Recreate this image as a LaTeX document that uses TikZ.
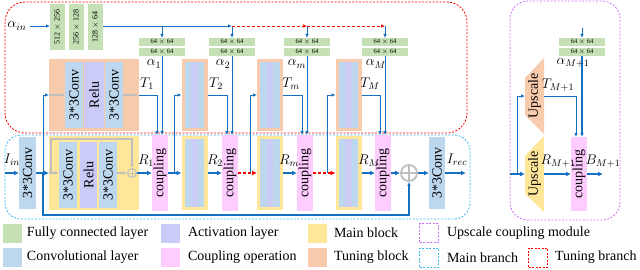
\RequirePackage{fix-cm}
\documentclass[tikz,border=0pt]{standalone}
\usepackage{fontspec}
\setmainfont{Liberation Serif}
\usepackage{graphicx}
\usetikzlibrary{arrows.meta}
\definecolor{fcgreen}{HTML}{C5E0B4}
\definecolor{convblue}{HTML}{BDD7EE}
\definecolor{actpurple}{HTML}{CBCBF7}
\definecolor{mainyellow}{HTML}{FFE699}
\definecolor{cplpink}{HTML}{FFCCFF}
\definecolor{tuneorange}{HTML}{F8CBAD}
\definecolor{linkblue}{HTML}{1670C2}
\definecolor{skipgray}{HTML}{BFBFBF}
\definecolor{cyanline}{HTML}{3DB8EE}
\definecolor{purpleline}{HTML}{CC70F5}
\newcommand{\vtext}[1]{\rotatebox{90}{#1}}
\newcommand{\strips}[3]{%
  \fill[convblue] (#1-9.75,#2-#3/2) rectangle ++(6.5,#3);
  \fill[actpurple] (#1-3.25,#2-#3/2) rectangle ++(6.5,#3);
  \fill[convblue] (#1+3.25,#2-#3/2) rectangle ++(6.5,#3);}

\begin{document}
\begin{tikzpicture}[x=1pt,y=-1pt,>={Latex[length=4pt,width=3.6pt]},
  font=\fontsize{14}{16}\selectfont,
  box/.style={inner sep=0,outer sep=0},
  fc/.style={box,fill=fcgreen,minimum width=15,minimum height=46,font=\fontsize{8}{9}\selectfont},
  pair/.style={box,fill=fcgreen,minimum width=46,minimum height=8,font=\fontsize{6.5}{7}\selectfont},
  conv/.style={box,fill=convblue},
  act/.style={box,fill=actpurple},
  mainblk/.style={box,fill=mainyellow,minimum height=74},
  tuneblk/.style={box,fill=tuneorange,minimum height=72},
  cpl/.style={box,fill=cplpink,minimum width=16,minimum height=76},
  arr/.style={->,draw=linkblue,line width=0.9pt},
  thk/.style={-{Latex[length=5pt,width=5pt]},draw=linkblue,line width=1.8pt},
  reddash/.style={->,draw=red,line width=0.8pt,dash pattern=on 3pt off 2pt},
  redthk/.style={-{Latex[length=5pt,width=5pt]},draw=red,line width=1.8pt,dash pattern=on 3pt off 2pt},
  gry/.style={->,draw=skipgray,line width=1.2pt},
  key/.style={box,minimum size=19},
  keytxt/.style={box,anchor=west}]
  \useasboundingbox (0,0) rectangle (640,270);
  \draw[red,line width=0.8pt,dash pattern=on 2pt off 1.5pt,rounded corners=20] (5,2) rectangle (467,133);
  \draw[cyanline,line width=0.8pt,dash pattern=on 2pt off 1.5pt,rounded corners=16] (5,135) rectangle (470,219);
  \draw[purpleline,line width=0.8pt,dash pattern=on 2pt off 1.5pt,rounded corners=18] (510,1) rectangle (620,220);

  \node (ain) at (17,26) {$\alpha_{in}$};
  \node[fc] (fcA) at (57.5,27) {\vtext{512 $\times$ 256}};
  \node[fc] (fcB) at (76.5,27) {\vtext{256 $\times$ 128}};
  \node[fc] (fcC) at (95.5,27) {\vtext{128 $\times$ 64}};
  \draw[arr] (ain.east) -- (ain.east -| fcA.west);
  \node[pair] (p1t) at (162,42) {64 $\times$ 64};
  \node[pair] (p1b) at (162,52) {64 $\times$ 64};
  \node[pair] (p2t) at (232,42) {64 $\times$ 64};
  \node[pair] (p2b) at (232,52) {64 $\times$ 64};
  \node[pair] (pmt) at (307,42) {64 $\times$ 64};
  \node[pair] (pmb) at (307,52) {64 $\times$ 64};
  \node[pair] (pMt) at (385,42) {64 $\times$ 64};
  \node[pair] (pMb) at (385,52) {64 $\times$ 64};
  \draw[arr] (fcC.east |- ain.east) -- (p2t.north |- ain.east);
  \draw[arr] (p1t.north |- ain.east) -- (p1t.north);
  \draw[arr] (p2t.north |- ain.east) -- (p2t.north);
  \draw[reddash] (p2t.north |- ain.east) -- (pmt.north |- ain.east);
  \draw[arr] (pmt.north |- ain.east) -- (pmt.north);
  \draw[reddash] (pmt.north |- ain.east) -- (pMt.north |- ain.east);
  \draw[arr] (pMt.north |- ain.east) -- (pMt.north);
  \node (a1) at (154,64) {$\alpha_1$};
  \node (a2) at (223,64) {$\alpha_2$};
  \node (am) at (297,64) {$\alpha_m$};
  \node (aM) at (376,64) {$\alpha_M$};

  \node[tuneblk,minimum width=90] (tb1) at (94,95) {};
  \node[conv,minimum width=18,minimum height=66] (tc1) at (74,95) {\vtext{3*3Conv}};
  \node[act,minimum width=20,minimum height=66] (tr1) at (94,95) {\vtext{Relu}};
  \node[conv,minimum width=18,minimum height=66] (tc2) at (114,95) {\vtext{3*3Conv}};
  \draw[gry] (tb1.west) -- (tc1.west);
  \draw[gry] (tc2.east) -- (tb1.east);
  \node[tuneblk,minimum width=26] (tb2) at (194.5,95) {};
  \strips{194.5}{95}{66}
  \node[tuneblk,minimum width=26] (tbm) at (270,95) {};
  \strips{270}{95}{66}
  \node[tuneblk,minimum width=26] (tbM) at (348.5,95) {};
  \strips{348.5}{95}{66}
  \node (t1) at (147,84) {$T_1$};
  \node (t2) at (216,84) {$T_2$};
  \node (tm) at (291,84) {$T_m$};
  \node (tM) at (370,84) {$T_M$};

  \node (iin) at (12,160) {$I_{in}$};
  \coordinate (inL) at (5,173);
  \node[conv,minimum width=17,minimum height=72] (c0) at (27.5,173) {\vtext{3*3Conv}};
  \draw[thk] (inL) -- (c0.west);
  \node[mainblk,minimum width=90] (mb1) at (94,173) {};
  \node[conv,minimum width=18,minimum height=66] (mc1) at (68,175) {\vtext{3*3Conv}};
  \node[act,minimum width=17,minimum height=66] (mr1) at (88.5,175) {\vtext{Relu}};
  \node[conv,minimum width=18,minimum height=66] (mc2) at (108,175) {\vtext{3*3Conv}};
  \node[circle,draw=skipgray,line width=1pt,minimum size=9,inner sep=0] (ps1) at (132,173) {};
  \draw[skipgray,line width=1pt] (ps1.north) -- (ps1.south) (ps1.west) -- (ps1.east);
  \coordinate (sk) at (132,139);
  \draw[gry] (mb1.west) -- (mb1.west -| mc1.west);
  \draw[gry] ([xshift=2pt]mb1.west) |- (sk) -- (ps1.north);
  \draw[gry] (mc2.east |- ps1.west) -- (ps1.west);
  \node[cpl] (cpl1) at (160,173) {\vtext{coupling}};
  \draw[thk] (ps1.east) -- (cpl1.west);
  \coordinate (j1) at (43,173);
  \draw[thk] (c0.east) -- (mb1.west);
  \draw[arr] (j1) |- (tb1.west);

  \node[mainblk,minimum width=26] (mb2) at (194.5,173) {};
  \strips{194.5}{173}{68}
  \node[cpl] (cpl2) at (230,173) {\vtext{coupling}};
  \node[mainblk,minimum width=26] (mbm) at (270,173) {};
  \strips{270}{173}{68}
  \node[cpl] (cplm) at (305,173) {\vtext{coupling}};
  \node[mainblk,minimum width=26] (mbM) at (348.5,173) {};
  \strips{348.5}{173}{68}
  \node[cpl] (cplM) at (383,173) {\vtext{coupling}};
  \coordinate (j2) at (174,173);
  \coordinate (jm) at (250,173);
  \coordinate (jM) at (327,173);
  \draw[thk] (cpl1.east) -- (mb2.west);
  \draw[thk] (mb2.east) -- (cpl2.west);
  \draw[redthk] (cpl2.east) -- (mbm.west);
  \draw[thk] (mbm.east) -- (cplm.west);
  \draw[redthk] (cplm.east) -- (mbM.west);
  \draw[thk] (mbM.east) -- (cplM.west);
  \draw[arr] (j2) |- (tb2.west);
  \draw[arr] (jm) |- (tbm.west);
  \draw[arr] (jM) |- (tbM.west);
  \draw[arr] (tb1.east) -| ([xshift=-3pt]cpl1.north);
  \draw[arr] (p1b.south) -- (p1b.south |- cpl1.north);
  \draw[arr] (tb2.east) -| ([xshift=-3pt]cpl2.north);
  \draw[arr] (p2b.south) -- (p2b.south |- cpl2.north);
  \draw[arr] (tbm.east) -| ([xshift=-3pt]cplm.north);
  \draw[arr] (pmb.south) -- (pmb.south |- cplm.north);
  \draw[arr] (tbM.east) -| ([xshift=-3pt]cplM.north);
  \draw[arr] (pMb.south) -- (pMb.south |- cplM.north);
  \node (r1) at (146,161) {$R_1$};
  \node (r2) at (215,161) {$R_2$};
  \node (rm) at (289,161) {$R_m$};
  \node (rM) at (369,161) {$R_M$};

  \node[circle,draw=skipgray,line width=1.8pt,minimum size=16,inner sep=0] (sumF) at (409,173) {};
  \draw[skipgray,line width=1.8pt] (sumF.north) -- (sumF.south) (sumF.west) -- (sumF.east);
  \draw[thk] (cplM.east) -- (sumF.west);
  \coordinate (bk) at (43,215);
  \draw[arr,line width=1.3pt] (j1) -- (bk) -| (sumF.south);
  \node[conv,minimum width=16,minimum height=72] (cF) at (437,173) {\vtext{3*3Conv}};
  \draw[thk] (sumF.east) -- (cF.west);
  \node (irec) at (457,160) {$I_{rec}$};
  \coordinate (outR) at (466,173);
  \draw[thk] (cF.east) -- (outR);

  \fill[tuneorange] (525,78) -- (544,58) -- (544,134) -- (525,115) -- cycle;
  \node[box,minimum width=19,minimum height=76] (upT) at (534.5,96) {\vtext{Upscale}};
  \fill[mainyellow] (525,156) -- (544,136) -- (544,212) -- (525,194) -- cycle;
  \node[box,minimum width=19,minimum height=76] (upB) at (534.5,174) {\vtext{Upscale}};
  \node[cpl,minimum height=74] (cplU) at (579,174) {\vtext{coupling}};
  \node[pair] (pUt) at (582,42) {64 $\times$ 64};
  \node[pair] (pUb) at (582,52) {64 $\times$ 64};
  \coordinate (pUin) at (582,28);
  \draw[arr] (pUin) -- (pUt.north);
  \draw[arr,line width=1.3pt] (pUb.south) -- (pUb.south |- cplU.north);
  \draw[arr] (upT.east) -| ([xshift=-3pt]cplU.north);
  \coordinate (uin) at (510,174);
  \coordinate (uj) at (517,174);
  \draw[thk] (uin) -- (upB.west);
  \draw[arr] (uj) |- (upT.west);
  \draw[thk] (upB.east) -- (cplU.west);
  \coordinate (outB) at (603,174);
  \draw[thk] (cplU.east) -- (outB);
  \node (aU) at (573,63) {$\alpha_{M+1}$};
  \node (tU) at (558,85) {$T_{M+1}$};
  \node (rU) at (558,161) {$R_{M+1}$};
  \node (bU) at (603,161) {$B_{M+1}$};

  \node[key,fill=fcgreen] (k1) at (12.5,233) {};
  \node[keytxt] (l1) at (27,233) {Fully connected layer};
  \node[key,fill=actpurple] (k2) at (170.5,233) {};
  \node[keytxt] (l2) at (188,233) {Activation layer};
  \node[key,fill=mainyellow] (k3) at (317.5,233) {};
  \node[keytxt] (l3) at (334,233) {Main block};
  \node[key,draw=purpleline,dash pattern=on 2pt off 1.5pt] (k4) at (429,233) {};
  \node[keytxt] (l4) at (447,233) {Upscale coupling module};
  \node[key,fill=convblue] (k5) at (12.5,257.5) {};
  \node[keytxt] (l5) at (27,257.5) {Convolutional layer};
  \node[key,fill=cplpink] (k6) at (170.5,257.5) {};
  \node[keytxt] (l6) at (188,257.5) {Coupling operation};
  \node[key,fill=tuneorange] (k7) at (317.5,257.5) {};
  \node[keytxt] (l7) at (334,257.5) {Tuning block};
  \node[key,draw=cyanline,dash pattern=on 2pt off 1.5pt] (k8) at (429,257.5) {};
  \node[keytxt] (l8) at (447,257.5) {Main branch};
  \node[key,draw=red,dash pattern=on 2pt off 1.5pt] (k9) at (538,257.5) {};
  \node[keytxt] (l9) at (555,257.5) {Tuning branch};
\end{tikzpicture}
\end{document}
